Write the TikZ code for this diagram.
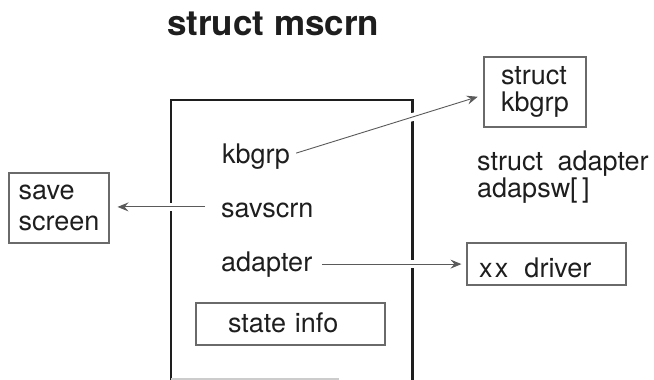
\documentclass[tikz,border=0pt]{standalone}
\usepackage{fontspec}
\setmainfont{TeX Gyre Heros}
\usetikzlibrary{arrows.meta,calc}
\definecolor{ink}{HTML}{1E1E1E}
\definecolor{boxgray}{HTML}{6A6A6A}
\definecolor{linkgray}{HTML}{5A5A5A}
\begin{document}
\begin{tikzpicture}[x=1pt,y=-1pt,
  lbl/.style={inner sep=0pt, anchor=base west, text=ink, font=\fontsize{27}{27}\selectfont},
  thinbox/.style={draw=boxgray, line width=1.1pt, inner sep=0pt, text=ink, font=\fontsize{27}{27}\selectfont},
  link/.style={draw=linkgray, line width=0.9pt, -{Stealth[length=11pt,width=9pt,inset=4pt]}},
  gapline/.style={draw=white, line width=8pt},
]
\useasboundingbox (0,0) rectangle (654,380);

% title
\node[anchor=base west, inner sep=0pt, text=ink, font=\fontsize{35}{35}\selectfont\bfseries] (title) at (167,35) {struct mscrn};

% the mscrn structure (open at the bottom)
\node[minimum width=241pt, minimum height=280pt, inner sep=0pt, anchor=north west] (mscrn) at (171,100) {};
\draw[ink, line width=2.8pt] (mscrn.south west) -- (mscrn.north west) -- (mscrn.north east) -- (mscrn.south east);
\draw[gray!40, line width=1.2pt] ($(mscrn.south west)+(0,-1.5)$) -- ++(168,0);

% fields
\node[lbl] (kbgrp) at (222,163) {kbgrp};
\node[lbl] (savscrn) at (221,217) {savscrn};
\node[lbl] (adapter) at (221,271) {adapter};
\node[thinbox, minimum width=189pt, minimum height=42pt, inner xsep=32pt, text width=125pt,
      align=left, text height=21pt, text depth=5pt] (state) at (290.5,324) {state info};

% targets
\node[thinbox, minimum width=102pt, minimum height=70pt, align=left] (kbgrpbox) at (535,92) {struct\\kbgrp};
\node[thinbox, minimum width=100pt, minimum height=70pt, align=left,
      font=\fontsize{27}{31}\selectfont] (savebox) at (59,208) {save\\screen};
\node[lbl, align=left, font=\fontsize{27}{25}\selectfont] (adapsw) at (477,197) {struct\kern7pt\ adapter\\adapsw[\,]};
\node[thinbox, minimum width=159pt, minimum height=42pt, inner xsep=12pt, text width=135pt,
      align=left, text height=26pt, text depth=0pt] (xxbox) at (546.5,264) {x\kern2.5pt x\kern7pt\ driver};

% connector end points
\coordinate (kbgrp-out) at ($(kbgrp.east)+(6,-3)$);
\coordinate (kbgrp-in) at ($(kbgrpbox.west)+(0,3)$);
\coordinate (savscrn-out) at ($(savscrn.west)+(-16,-3)$);
\coordinate (adapter-out) at ($(adapter.east)+(10,0)$);

% breaks in the frame where the links cross it
\path[gapline, shorten >=40pt] (kbgrp-out) -- (kbgrp-in);
\path[gapline, shorten >=40pt] (savscrn-out) -- (savscrn-out -| savebox.east);
\path[gapline, shorten >=20pt] (adapter-out) -- (adapter-out -| xxbox.west);

% links
\draw[link, shorten >=6pt] (kbgrp-out) -- (kbgrp-in);
\draw[link, shorten >=8pt] (savscrn-out) -- (savscrn-out -| savebox.east);
\draw[link, shorten >=5pt] (adapter-out) -- (adapter-out -| xxbox.west);
\end{tikzpicture}
\end{document}
